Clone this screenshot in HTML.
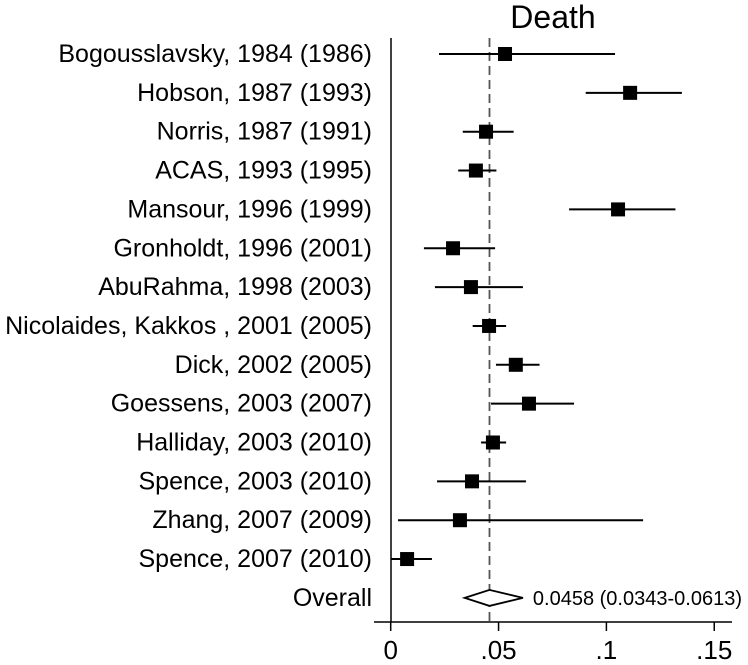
<!DOCTYPE html>
<html><head><meta charset="utf-8"><style>
html,body{margin:0;padding:0;background:#fff;}
svg{display:block;font-family:"Liberation Sans",Arial,sans-serif;}
</style></head><body>
<svg id="chart" width="748" height="665" viewBox="0 0 748 665">
<text x="553" y="28" font-size="32" text-anchor="middle">Death</text>
<g id="plot"></g>
</svg>
<script>
const studies = ["Bogousslavsky, 1984 (1986)","Hobson, 1987 (1993)","Norris, 1987 (1991)","ACAS, 1993 (1995)","Mansour, 1996 (1999)","Gronholdt, 1996 (2001)","AbuRahma, 1998 (2003)","Nicolaides, Kakkos , 2001 (2005)","Dick, 2002 (2005)","Goessens, 2003 (2007)","Halliday, 2003 (2010)","Spence, 2003 (2010)","Zhang, 2007 (2009)","Spence, 2007 (2010)"];
const estimates = [0.053,0.111,0.0442,0.0395,0.1054,0.0289,0.0372,0.0456,0.058,0.0641,0.0474,0.0377,0.0321,0.0076];
const lower = [0.0224,0.0904,0.0334,0.0313,0.0827,0.0154,0.0205,0.038,0.0488,0.0465,0.0419,0.0215,0.0034,0.0];
const upper = [0.104,0.135,0.057,0.049,0.132,0.0484,0.0613,0.0535,0.069,0.085,0.0535,0.0627,0.117,0.0191];
const overall = [0.0458,0.0343,0.0613];
const overallLabel = "0.0458 (0.0343-0.0613)";
const ticks = [0,0.05,0.1,0.15];
const tickLabels = ["0",".05",".1",".15"];

const NS="http://www.w3.org/2000/svg";
const g=document.getElementById('plot');
const X=v=>390.7+v*2157;
const Y=i=>54+i*38.85;
function el(t,a){const e=document.createElementNS(NS,t);for(const k in a)e.setAttribute(k,a[k]);g.appendChild(e);return e;}
let e=el('line',{x1:391,y1:38,x2:391,y2:622,stroke:'#000','stroke-width':1.5});


e=el('line',{x1:374,y1:622,x2:732,y2:622,stroke:'#000','stroke-width':1.5});


ticks.forEach((t,i)=>{
  let l=el('line',{x1:X(t),y1:622,x2:X(t),y2:631,stroke:'#000','stroke-width':1.5});
  
  
  let tx=el('text',{x:X(t),y:659,'font-size':26,'text-anchor':'middle'});
  tx.textContent=tickLabels[i];
  
  
});
e=el('line',{x1:X(overall[0]),y1:38,x2:X(overall[0]),y2:622,stroke:'#555','stroke-width':1.8,'stroke-dasharray':'9,5'});


studies.forEach((s,i)=>{
  const y=Y(i);
  let t=el('text',{x:372,y:y+8,'font-size':25,'text-anchor':'end'});
  t.textContent=s;
  
  
  let l=el('line',{x1:X(lower[i]),y1:y,x2:X(upper[i]),y2:y,stroke:'#000','stroke-width':2});
  
  
  let r=el('rect',{x:X(estimates[i])-7,y:y-7,width:14,height:14,fill:'#000'});
  
  
});
const oy=Y(14);
let ot=el('text',{x:372,y:oy+8,'font-size':25,'text-anchor':'end'});
ot.textContent="Overall";


let d=el('polygon',{points:`${X(overall[1])},${oy} ${X(overall[0])},${oy-8} ${X(overall[2])},${oy} ${X(overall[0])},${oy+8}`,fill:'#fff',stroke:'#000','stroke-width':1.8});


let ov=el('text',{x:X(overall[2])+10,y:oy+7,'font-size':20});
ov.textContent=overallLabel;


</script>
</body></html>
